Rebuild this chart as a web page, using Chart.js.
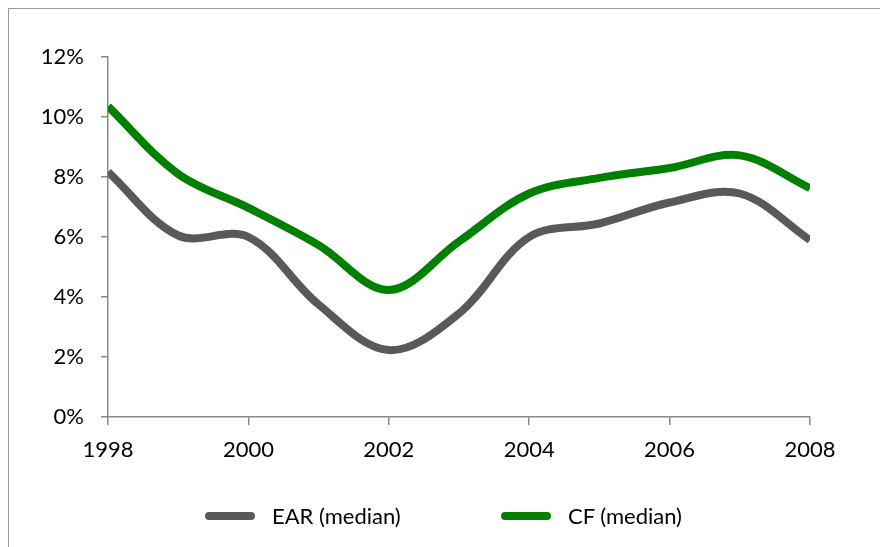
<!DOCTYPE html>
<html>
<head>
<meta charset="utf-8">
<script src="https://cdn.jsdelivr.net/npm/chart.js@4.4.0/dist/chart.umd.min.js"></script>
<style>
    body { margin: 0; background: #fff; }
    #wrap { position: relative; width: 880px; height: 547px; overflow: hidden; }
    #frame { position: absolute; left: 8px; top: 8px; width: 900px; height: 600px; border: 1px solid #9a9a9a; }
    #chart { position: absolute; left: 0; top: 0; }
    .legend-item { position: absolute; top: 502px; height: 28px; font: 22px Lato, sans-serif; color: #000; line-height: 28px; }
    .swatch { position: absolute; top: 10px; width: 50px; height: 8px; border-radius: 4px; }
    .legend-item span { position: absolute; white-space: nowrap; }
</style>
</head>
<body>
<div id="wrap">
    <div id="frame"></div>
    <canvas id="chart" width="880" height="547"></canvas>
    <div class="legend-item" style="left:205px">
        <div class="swatch" style="left:0;background:#595959"></div>
        <span style="left:67px">EAR (median)</span>
    </div>
    <div class="legend-item" style="left:501px">
        <div class="swatch" style="left:0;background:#008000"></div>
        <span style="left:67px">CF (median)</span>
    </div>
</div>
<script>
// data (percent)
const years = [1998, 1999, 2000, 2001, 2002, 2003, 2004, 2005, 2006, 2007, 2008];
const earMedian = [8.17, 6.05, 6.0, 3.75, 2.23, 3.45, 6.0, 6.45, 7.15, 7.45, 5.9];
const cfMedian = [10.35, 8.1, 6.97, 5.73, 4.23, 5.85, 7.45, 7.97, 8.3, 8.72, 7.63];
const yTicks = [0, 2, 4, 6, 8, 10, 12];
const xTicks = [1998, 2000, 2002, 2004, 2006, 2008];

const axisGray = '#888888';

window.addEventListener('load', function () {
    drawChart();
});

function toPoints(values) {
    return years.map((y, i) => ({ x: y, y: values[i] }));
}

function drawChart() {
    const ctx = document.getElementById('chart').getContext('2d');
    new Chart(ctx, {
        type: 'line',
        data: {
            datasets: [{
                label: 'EAR (median)',
                data: toPoints(earMedian),
                borderColor: '#595959',
                borderWidth: 8,
                tension: 0.35,
                pointRadius: 0,
                clip: 0
            }, {
                label: 'CF (median)',
                data: toPoints(cfMedian),
                borderColor: '#008000',
                borderWidth: 8,
                tension: 0.35,
                pointRadius: 0,
                clip: 0
            }]
        },
        options: {
            responsive: false,
            animation: false,
            layout: {
                padding: { top: 57, right: 70, left: 0, bottom: 0 }
            },
            plugins: {
                legend: { display: false },
                tooltip: { enabled: false }
            },
            scales: {
                x: {
                    type: 'linear',
                    min: years[0],
                    max: years[years.length - 1],
                    afterBuildTicks: scale => { scale.ticks = xTicks.map(v => ({ value: v })); },
                    afterFit: scale => { scale.height = 130; },
                    grid: { drawOnChartArea: false, drawTicks: true, tickLength: 8, color: axisGray, lineWidth: 1.5 },
                    border: { color: axisGray, width: 1.5 },
                    ticks: {
                        padding: 12,
                        color: '#000',
                        font: { family: 'Lato', size: 22 },
                        maxRotation: 0,
                        callback: v => String(v)
                    }
                },
                y: {
                    min: 0,
                    max: 12,
                    afterBuildTicks: scale => { scale.ticks = yTicks.map(v => ({ value: v })); },
                    afterFit: scale => { scale.width = 108; },
                    grid: { drawOnChartArea: false, drawTicks: true, tickLength: 7, color: axisGray, lineWidth: 1.5 },
                    border: { color: axisGray, width: 1.5 },
                    ticks: {
                        padding: 17,
                        color: '#000',
                        font: { family: 'Lato', size: 22 },
                        callback: v => v + '%'
                    }
                }
            }
        }
    });
}
</script>
</body>
</html>
